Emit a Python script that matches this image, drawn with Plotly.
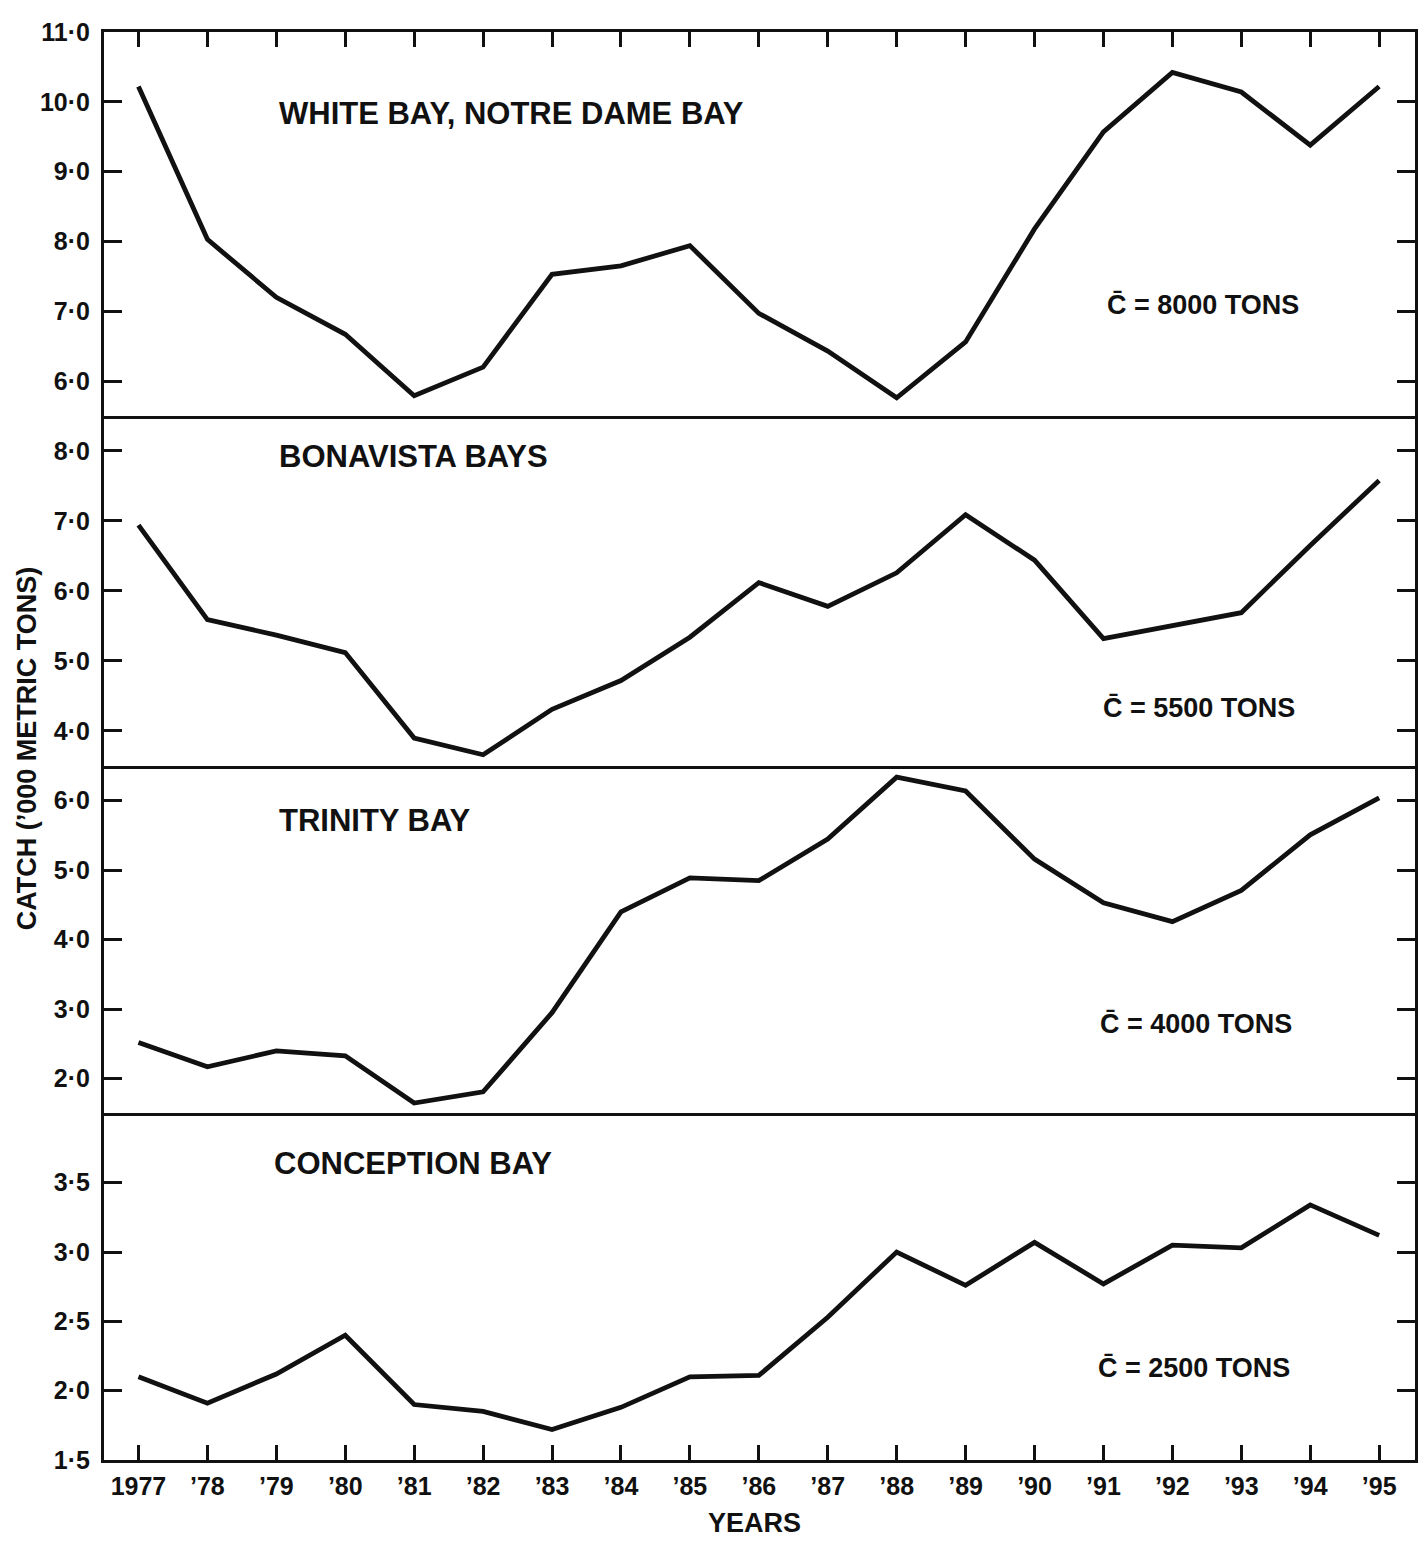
import plotly.graph_objects as go
from plotly.subplots import make_subplots

# ---------------- data ----------------
years = [1977, 1978, 1979, 1980, 1981, 1982, 1983, 1984, 1985, 1986,
         1987, 1988, 1989, 1990, 1991, 1992, 1993, 1994, 1995]
year_labels = ["1977", "’78", "’79", "’80", "’81", "’82", "’83", "’84", "’85", "’86",
               "’87", "’88", "’89", "’90", "’91", "’92", "’93", "’94", "’95"]

white_notre_dame = [10.22, 8.03, 7.20, 6.67, 5.79, 6.20, 7.53, 7.65, 7.94, 6.97,
                    6.43, 5.76, 6.56, 8.18, 9.57, 10.42, 10.14, 9.38, 10.22]
bonavista = [6.94, 5.59, 5.37, 5.12, 3.90, 3.66, 4.31, 4.72, 5.34, 6.12,
             5.78, 6.26, 7.09, 6.44, 5.32, 5.50, 5.69, 6.65, 7.58]
trinity = [2.52, 2.17, 2.40, 2.33, 1.65, 1.81, 2.95, 4.40, 4.89, 4.85,
           5.45, 6.34, 6.14, 5.16, 4.53, 4.26, 4.71, 5.51, 6.04]
conception = [2.10, 1.91, 2.12, 2.40, 1.90, 1.85, 1.72, 1.88, 2.10, 2.11,
              2.53, 3.00, 2.76, 3.07, 2.77, 3.05, 3.03, 3.34, 3.12]

panel_titles = ["WHITE BAY, NOTRE DAME BAY", "BONAVISTA BAYS", "TRINITY BAY", "CONCEPTION BAY"]
mean_labels = ["C\u0304 = 8000 TONS", "C\u0304 = 5500 TONS", "C\u0304 = 4000 TONS", "C\u0304 = 2500 TONS"]

y_tick_values = [
    [6.0, 7.0, 8.0, 9.0, 10.0, 11.0],
    [4.0, 5.0, 6.0, 7.0, 8.0],
    [2.0, 3.0, 4.0, 5.0, 6.0],
    [1.5, 2.0, 2.5, 3.0, 3.5],
]
y_ranges = [[5.5, 11.0], [3.5, 8.5], [1.5, 6.5], [1.5, 4.0]]

series = [white_notre_dame, bonavista, trinity, conception]

# ---------------- figure ----------------
FONT = "Liberation Sans, Arial, sans-serif"
INK = "#111111"

fig = make_subplots(rows=4, cols=1, shared_xaxes=True, vertical_spacing=0)

for i, vals in enumerate(series):
    fig.add_trace(
        go.Scatter(x=years, y=vals, mode="lines",
                   line=dict(color=INK, width=4.8),
                   showlegend=False, hoverinfo="skip"),
        row=i + 1, col=1)

domains = [[0.7311, 1.0], [0.4860, 0.7311], [0.2427, 0.4860], [0.0, 0.2427]]

for i in range(4):
    suffix = "" if i == 0 else str(i + 1)
    tv = y_tick_values[i]
    fig.layout["yaxis" + suffix].update(
        domain=domains[i],
        range=y_ranges[i],
        tickmode="array",
        tickvals=tv,
        ticktext=[f"{v:.1f}".replace(".", "·") for v in tv],
        ticks="inside", ticklen=18, tickwidth=3, tickcolor=INK,
        showline=True, linewidth=3, linecolor=INK, mirror="ticks",
        showgrid=False, zeroline=False,
        tickfont=dict(family=FONT, size=25, color=INK, weight="bold"),
        ticklabelstandoff=6,
        fixedrange=True,
    )
    xa = dict(
        range=[1976.5, 1995.52],
        tickmode="array", tickvals=years, ticktext=year_labels,
        showline=True, linewidth=3, linecolor=INK,
        showgrid=False, zeroline=False,
        tickcolor=INK, tickwidth=3, ticklen=15,
        fixedrange=True,
    )
    if i == 0:
        # top frame with ticks, plus the line between panel 1 and 2
        xa.update(side="top", ticks="inside", showticklabels=False, mirror=True)
    elif i == 3:
        xa.update(ticks="inside", showticklabels=True, mirror=False,
                  tickfont=dict(family=FONT, size=25, color=INK, weight="bold"),
                  ticklabelstandoff=2)
    else:
        xa.update(ticks="", showticklabels=False, mirror=False)
    fig.layout["xaxis" + suffix].update(**xa)

annotations = []
title_pos = [(0.1317, 0.9427), (0.1317, 0.7028), (0.1317, 0.4476), (0.1279, 0.2077)]
mean_pos = [(0.7633, 0.8091), (0.7603, 0.5266), (0.7580, 0.3056), (0.7565, 0.0643)]
for i in range(4):
    annotations.append(dict(
        text=panel_titles[i], xref="paper", yref="paper",
        x=title_pos[i][0], y=title_pos[i][1], xanchor="left", yanchor="middle",
        showarrow=False, font=dict(family=FONT, size=31, color=INK, weight="bold")))
    annotations.append(dict(
        text=mean_labels[i], xref="paper", yref="paper",
        x=mean_pos[i][0], y=mean_pos[i][1], xanchor="left", yanchor="middle",
        showarrow=False, font=dict(family=FONT, size=27, color=INK, weight="bold")))

annotations.append(dict(
    text="CATCH (’000 METRIC TONS)", xref="paper", yref="paper",
    x=-0.0586, y=0.4986, xanchor="center", yanchor="middle", textangle=-90,
    showarrow=False, font=dict(family=FONT, size=27, color=INK, weight="bold")))
annotations.append(dict(
    text="YEARS", xref="paper", yref="paper",
    x=0.4962, y=-0.0441, xanchor="center", yanchor="middle",
    showarrow=False, font=dict(family=FONT, size=27, color=INK, weight="bold")))

# The page body adds an 8px offset; size the figure so the plot area lands
# at the same screen pixels as the reference.
fig.update_layout(
    width=1420, height=1533,
    margin=dict(l=96, r=10, t=22, b=81),
    paper_bgcolor="white", plot_bgcolor="white",
    annotations=annotations,
    showlegend=False,
)

fig.write_html("out.html")
